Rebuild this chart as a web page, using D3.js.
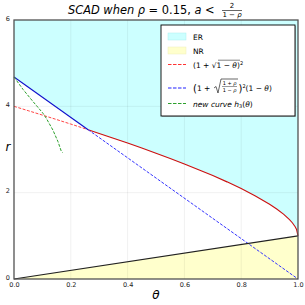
<!DOCTYPE html>
<html>
<head>
<meta charset="utf-8">
<script src="https://cdn.jsdelivr.net/npm/d3@7"></script>
<style>
  body { margin: 0; background: #fff; }
  svg { display: block; font-family: 'DejaVu Sans', sans-serif; }
</style>
</head>
<body>
<svg></svg>
<script>
let width = 305
let height = 305
let margin = { top: 20, right: 7, bottom: 26, left: 14 }

let xTicks = [0, 0.2, 0.4, 0.6, 0.8, 1.0]
let yTicks = [0, 2, 4, 6]

// (1 + sqrt(1 - theta))^2
let redTheta = [0, 0.05, 0.1, 0.15, 0.2, 0.25, 0.261, 0.3, 0.35, 0.4, 0.45, 0.5, 0.55, 0.6, 0.65, 0.7, 0.75, 0.8, 0.85, 0.9, 0.925, 0.95, 0.97, 0.98, 0.99, 0.995, 1.0]
let redR = [4.0, 3.899, 3.797, 3.694, 3.589, 3.482, 3.458, 3.373, 3.262, 3.149, 3.033, 2.914, 2.792, 2.665, 2.533, 2.395, 2.25, 2.094, 1.925, 1.733, 1.623, 1.497, 1.376, 1.303, 1.21, 1.146, 1.0]

// (1 + sqrt((1+rho)/(1-rho)))^2 (1 - theta)
let blueTheta = [0, 0.261, 1.0]
let blueR = [4.68, 3.458, 0]

// new curve h3(theta)
let greenTheta = [0, 0.032, 0.067, 0.102, 0.114, 0.137, 0.155, 0.167, 0.171]
let greenR = [4.68, 4.39, 4.11, 3.84, 3.72, 3.45, 3.18, 2.95, 2.93]

// r = theta boundary of NR
let nrTheta = [0, 1]
let nrR = [0, 1]

let splitTheta = 0.261

let svg = d3.select('svg')
    .attr('width', width)
    .attr('height', height)

let x = d3.scaleLinear().domain([0, 1]).range([margin.left, width - margin.right])
let y = d3.scaleLinear().domain([0, 6]).range([height - margin.bottom, margin.top])

let pts = (xs, ys) => xs.map((t, i) => [t, ys[i]])
let red = pts(redTheta, redR)
let blue = pts(blueTheta, blueR)
let green = pts(greenTheta, greenR)
let nr = pts(nrTheta, nrR)

let line = d3.line().x(d => x(d[0])).y(d => y(d[1]))

// ER region: above blue up to the split, above red after
let boundary = blue.filter(d => d[0] <= splitTheta)
    .concat(red.filter(d => d[0] > splitTheta))
let erArea = d3.area().x(d => x(d[0])).y0(d => y(d[1])).y1(y(6))
svg.append('path').attr('d', erArea(boundary)).attr('fill', '#ccffff')

let nrArea = d3.area().x(d => x(d[0])).y0(y(0)).y1(d => y(d[1]))
svg.append('path').attr('d', nrArea(nr)).attr('fill', '#ffffcc')

// grid
let grid = svg.append('g').attr('stroke', '#000').attr('stroke-opacity', 0.08).attr('stroke-width', 0.8)
grid.selectAll('.gx').data(xTicks).enter().append('line')
    .attr('x1', d => x(d)).attr('x2', d => x(d))
    .attr('y1', y(0)).attr('y2', y(6))
grid.selectAll('.gy').data(yTicks).enter().append('line')
    .attr('x1', x(0)).attr('x2', x(1))
    .attr('y1', d => y(d)).attr('y2', d => y(d))

// curves
svg.append('path').attr('d', line(red.filter(d => d[0] <= splitTheta)))
    .attr('fill', 'none').attr('stroke', '#ff4444').attr('stroke-width', 1)
    .attr('stroke-dasharray', '3,1.5')
svg.append('path').attr('d', line(red.filter(d => d[0] >= splitTheta)))
    .attr('fill', 'none').attr('stroke', '#cc1010').attr('stroke-width', 1.1)
svg.append('path').attr('d', line(blue.filter(d => d[0] <= splitTheta)))
    .attr('fill', 'none').attr('stroke', '#1010cc').attr('stroke-width', 1.1)
svg.append('path').attr('d', line(blue.filter(d => d[0] >= splitTheta)))
    .attr('fill', 'none').attr('stroke', '#3333ff').attr('stroke-width', 1)
    .attr('stroke-dasharray', '3,1.5')
svg.append('path').attr('d', line(green))
    .attr('fill', 'none').attr('stroke', '#2ca02c').attr('stroke-width', 1)
    .attr('stroke-dasharray', '3,1.5')
svg.append('path').attr('d', line(nr))
    .attr('fill', 'none').attr('stroke', '#222').attr('stroke-width', 1.1)

// frame
svg.append('rect')
    .attr('x', x(0)).attr('y', y(6))
    .attr('width', x(1) - x(0)).attr('height', y(0) - y(6))
    .attr('fill', 'none').attr('stroke', '#555').attr('stroke-width', 1.3)

// axes
svg.append('g')
    .attr('transform', `translate(0,${y(0)})`)
    .call(d3.axisBottom(x).tickValues(xTicks).tickFormat(d3.format('.1f')).tickSize(0).tickPadding(3))
svg.append('g')
    .attr('transform', `translate(${x(0)},-2)`)
    .call(d3.axisLeft(y).tickValues(yTicks).tickFormat(d3.format('d')).tickSize(0).tickPadding(4))
svg.selectAll('.domain').remove()
svg.selectAll('.tick text').attr('font-size', 6.5).attr('fill', '#222')
    .attr('font-family', 'DejaVu Sans')

svg.append('text').attr('x', 8).attr('y', 151).attr('text-anchor', 'middle')
    .attr('font-size', 12).attr('font-style', 'italic').text('r')
svg.append('text').attr('x', x(0.5)).attr('y', 299).attr('text-anchor', 'middle')
    .attr('font-size', 12).attr('font-style', 'italic').text('θ')

// title
let title = svg.append('text').attr('x', 68).attr('y', 14)
    .attr('font-size', 11.4).attr('font-style', 'italic')
title.append('tspan').text('SCAD when ρ')
title.append('tspan').attr('font-style', 'normal').text(' = 0.15,  ')
title.append('tspan').text('a')
title.append('tspan').attr('font-style', 'normal').text(' <')
svg.append('text').attr('x', 232).attr('y', 8).attr('text-anchor', 'middle')
    .attr('font-size', 7).text('2')
svg.append('line').attr('x1', 222).attr('x2', 242).attr('y1', 10.5).attr('y2', 10.5)
    .attr('stroke', '#000').attr('stroke-width', 0.6)
let den = svg.append('text').attr('x', 232).attr('y', 17).attr('text-anchor', 'middle').attr('font-size', 7)
den.append('tspan').text('1 − ')
den.append('tspan').attr('font-style', 'italic').text('ρ')

// legend
let lg = svg.append('g')
lg.append('rect').attr('x', 162).attr('y', 26).attr('width', 134).attr('height', 91)
    .attr('fill', '#888').attr('opacity', 0.5)
lg.append('rect').attr('x', 161).attr('y', 25).attr('width', 134).attr('height', 91)
    .attr('fill', '#fff').attr('stroke', '#000').attr('stroke-width', 0.9)

let sx0 = 168, sx1 = 186, tx = 193
lg.append('rect').attr('x', sx0).attr('y', 33).attr('width', sx1 - sx0).attr('height', 7)
    .attr('fill', '#ccffff').attr('stroke', '#aee').attr('stroke-width', 0.5)
lg.append('rect').attr('x', sx0).attr('y', 47).attr('width', sx1 - sx0).attr('height', 7)
    .attr('fill', '#ffffcc').attr('stroke', '#eeb').attr('stroke-width', 0.5)
let legendLines = [
    { y: 64.5, color: '#ff3333' },
    { y: 88, color: '#2222ff' },
    { y: 103.5, color: '#2ca02c' }
]
lg.selectAll('.ll').data(legendLines).enter().append('line')
    .attr('x1', sx0).attr('x2', sx1).attr('y1', d => d.y).attr('y2', d => d.y)
    .attr('stroke', d => d.color).attr('stroke-width', 1.2).attr('stroke-dasharray', '3.5,1.5')

let fs = 7.5
lg.append('text').attr('x', tx).attr('y', 39.5).attr('font-size', fs).text('ER')
lg.append('text').attr('x', tx).attr('y', 53.5).attr('font-size', fs).text('NR')

// (1 + sqrt(1 - theta))^2
let t1 = lg.append('text').attr('x', tx).attr('y', 67.5).attr('font-size', fs)
t1.append('tspan').text('(1 + √1 − ')
t1.append('tspan').attr('font-style', 'italic').text('θ')
t1.append('tspan').text(')')
t1.append('tspan').attr('font-size', 5).attr('dy', -3).text('2')
lg.append('line').attr('x1', 218).attr('x2', 240).attr('y1', 60.2).attr('y2', 60.2)
    .attr('stroke', '#000').attr('stroke-width', 0.5)

// (1 + sqrt((1+rho)/(1-rho)))^2 (1 - theta)
let t2 = lg.append('text').attr('x', tx).attr('y', 91).attr('font-size', fs)
t2.append('tspan').attr('font-size', 10).attr('dy', 0.5).text('(')
t2.append('tspan').attr('dy', -0.5).text('1 + ')
lg.append('path').attr('d', 'M214,88 L216,86.5 L218,93 L221,79 L238,79')
    .attr('fill', 'none').attr('stroke', '#000').attr('stroke-width', 0.6)
let n2 = lg.append('text').attr('x', 229.5).attr('y', 85).attr('font-size', 5).attr('text-anchor', 'middle')
n2.append('tspan').text('1 + ')
n2.append('tspan').attr('font-style', 'italic').text('ρ')
lg.append('line').attr('x1', 222).attr('x2', 237).attr('y1', 86.5).attr('y2', 86.5)
    .attr('stroke', '#000').attr('stroke-width', 0.4)
let d2 = lg.append('text').attr('x', 229.5).attr('y', 91.5).attr('font-size', 5).attr('text-anchor', 'middle')
d2.append('tspan').text('1 − ')
d2.append('tspan').attr('font-style', 'italic').text('ρ')
let t3 = lg.append('text').attr('x', 238.5).attr('y', 91).attr('font-size', fs)
t3.append('tspan').attr('font-size', 10).attr('dy', 0.5).text(')')
t3.append('tspan').attr('font-size', 5).attr('dy', -4).text('2')
t3.append('tspan').attr('dy', 3.5).text('(1 − ')
t3.append('tspan').attr('font-style', 'italic').text('θ')
t3.append('tspan').text(')')

let t4 = lg.append('text').attr('x', tx).attr('y', 106.5).attr('font-size', fs)
t4.append('tspan').attr('font-style', 'italic').text('new curve h')
t4.append('tspan').attr('font-size', 5).attr('dy', 1.5).text('3')
t4.append('tspan').attr('dy', -1.5).text('(')
t4.append('tspan').attr('font-style', 'italic').text('θ')
t4.append('tspan').text(')')
</script>
</body>
</html>
